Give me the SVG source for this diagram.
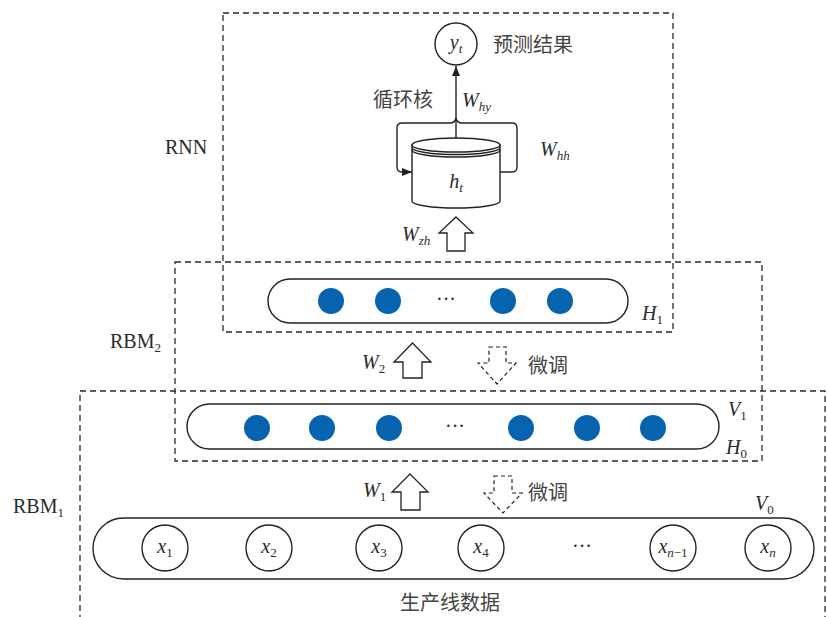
<svg xmlns="http://www.w3.org/2000/svg" width="827" height="617" viewBox="0 0 827 617">
<defs>
<style>
.box{fill:none;stroke:#2a2a2a;stroke-width:1.3;stroke-dasharray:6 4}
.ln{fill:none;stroke:#222;stroke-width:1.4}
.cap{fill:#fff;stroke:#222;stroke-width:1.4}
.dot{fill:#0563b0}
.harrow{fill:#fff;stroke:#222;stroke-width:1.3;stroke-linejoin:miter}
.darrow{fill:#fff;stroke:#222;stroke-width:1.2;stroke-dasharray:4 3}
text{font-family:"Liberation Serif","Noto Sans CJK SC",serif;font-size:20px;fill:#2b2b2b}
.zh{font-family:"Noto Sans CJK SC","Liberation Serif",sans-serif;font-size:20px;fill:#444}
.it{font-style:italic}
.sub{font-size:13px}
.mid{text-anchor:middle}
</style>
<marker id="ah" markerUnits="userSpaceOnUse" markerWidth="10" markerHeight="8" refX="10" refY="4" orient="auto">
<path d="M0,0 L10,4 L0,8 z" fill="#222"/>
</marker>
</defs>
<rect width="827" height="617" fill="#fff"/>

<g id="frames">
<rect class="box" x="223" y="13" width="450" height="319"/>
<rect class="box" x="175" y="262" width="587" height="199"/>
<rect class="box" x="80" y="391" width="745" height="250"/>
<text x="165" y="154">RNN</text>
<text x="110" y="348">RBM<tspan class="sub" dy="4">2</tspan></text>
<text x="13" y="513">RBM<tspan class="sub" dy="4">1</tspan></text>
</g>

<g id="connectors">
<path class="ln" d="M456,139 V66" marker-end="url(#ah)"/>
<path class="ln" d="M500,172 H512 Q517,172 517,167 V128 Q517,123 512,123 H462 Q457,123 456,118 Q455,123 450,123 H402 Q397,123 397,128 V167 Q397,172 402,172 H412" marker-end="url(#ah)"/>
<path id="arrow-wzh" class="harrow" d="M456,217 L473,233 H465 V251 H447 V233 H439 Z"/>
<path id="arrow-w2" class="harrow" d="M412.5,343 L431,362 H422 V378 H403 V362 H394 Z"/>
<path id="arrow-w1" class="harrow" d="M410,474 L428,492 H420 V510 H401 V492 H392 Z"/>
<path id="arrow-ft2" class="darrow" d="M489,347 H506 V363 H516 L497,384 L478,363 H489 Z"/>
<path id="arrow-ft1" class="darrow" d="M494,476 H512 V493 H522 L503,513 L484,493 H494 Z"/>
<text x="462" y="107"><tspan class="it">W</tspan><tspan class="sub it" dy="4">hy</tspan></text>
<text x="540" y="156"><tspan class="it">W</tspan><tspan class="sub it" dy="4">hh</tspan></text>
<text x="402" y="241"><tspan class="it">W</tspan><tspan class="sub it" dy="4">zh</tspan></text>
<text x="362" y="369"><tspan class="it">W</tspan><tspan class="sub" dy="4">2</tspan></text>
<text x="363" y="497"><tspan class="it">W</tspan><tspan class="sub" dy="4">1</tspan></text>
<text class="zh" x="373" y="107">循环核</text>
<text class="zh" x="528" y="373">微调</text>
<text class="zh" x="528" y="500">微调</text>
</g>

<g id="node-yt">
<circle class="cap" cx="456" cy="44" r="21"/>
<text class="mid" x="456" y="49"><tspan class="it">y</tspan><tspan class="sub it" dy="4">t</tspan></text>
<text class="zh" x="493" y="52">预测结果</text>
</g>

<g id="node-ht">
<path class="cap" d="M412,145 V201 A44,7 0 0 0 500,201 V145 Z"/>
<ellipse class="cap" cx="456" cy="145" rx="44" ry="7"/>
<path class="ln" d="M412,147.5 A44,7 0 0 0 500,147.5 M412,150 A44,7 0 0 0 500,150"/>
<text class="mid" x="456" y="188"><tspan class="it">h</tspan><tspan class="sub it" dy="4">t</tspan></text>
</g>

<g id="node-h1">
<rect class="cap" x="268" y="279" width="360" height="44" rx="22"/>
<circle class="dot" cx="331" cy="301" r="13"/>
<circle class="dot" cx="388" cy="301" r="13"/>
<text class="mid" x="446" y="306">···</text>
<circle class="dot" cx="503" cy="301" r="13"/>
<circle class="dot" cx="560" cy="301" r="13"/>
<text x="642" y="320"><tspan class="it">H</tspan><tspan class="sub" dy="4">1</tspan></text>
</g>

<g id="node-v1h0">
<rect class="cap" x="187" y="404" width="532" height="45" rx="22.5"/>
<circle class="dot" cx="257" cy="428" r="13"/>
<circle class="dot" cx="322" cy="428" r="13"/>
<circle class="dot" cx="389" cy="428" r="13"/>
<text class="mid" x="455" y="433">···</text>
<circle class="dot" cx="521" cy="428" r="13"/>
<circle class="dot" cx="587" cy="428" r="13"/>
<circle class="dot" cx="653" cy="428" r="13"/>
<text x="728" y="416"><tspan class="it">V</tspan><tspan class="sub" dy="4">1</tspan></text>
<text x="726" y="454"><tspan class="it">H</tspan><tspan class="sub" dy="4">0</tspan></text>
</g>

<g id="node-v0">
<rect class="cap" x="93" y="518" width="721" height="61" rx="30.5"/>
<text x="755" y="510"><tspan class="it">V</tspan><tspan class="sub" dy="4">0</tspan></text>
<circle class="cap" cx="165" cy="548" r="23"/>
<text class="mid" x="165" y="553"><tspan class="it">x</tspan><tspan class="sub" dy="4">1</tspan></text>
<circle class="cap" cx="269" cy="548" r="23"/>
<text class="mid" x="269" y="553"><tspan class="it">x</tspan><tspan class="sub" dy="4">2</tspan></text>
<circle class="cap" cx="379" cy="548" r="23"/>
<text class="mid" x="379" y="553"><tspan class="it">x</tspan><tspan class="sub" dy="4">3</tspan></text>
<circle class="cap" cx="481" cy="548" r="23"/>
<text class="mid" x="481" y="553"><tspan class="it">x</tspan><tspan class="sub" dy="4">4</tspan></text>
<text class="mid" x="582" y="553">···</text>
<circle class="cap" cx="673" cy="548" r="23"/>
<text class="mid" x="673" y="553"><tspan class="it">x</tspan><tspan class="sub" dy="4"><tspan class="it">n</tspan>−1</tspan></text>
<circle class="cap" cx="768" cy="548" r="23"/>
<text class="mid" x="768" y="553"><tspan class="it">x</tspan><tspan class="sub it" dy="4">n</tspan></text>
<text class="zh" x="400" y="610">生产线数据</text>
</g>
</svg>
